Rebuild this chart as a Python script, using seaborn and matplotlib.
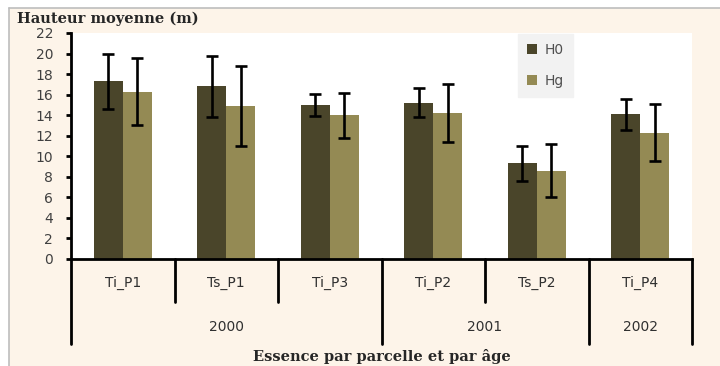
import matplotlib
matplotlib.use("Agg")
import matplotlib.pyplot as plt
from matplotlib.patches import Rectangle, Patch
from matplotlib.lines import Line2D
import matplotlib.transforms as mtransforms
import numpy as np
import pandas as pd
import seaborn as sns

# Mean heights per plot (m) and their standard deviations
parcelles = ["Ti_P1", "Ts_P1", "Ti_P3", "Ti_P2", "Ts_P2", "Ti_P4"]
annees = ["2000", "2000", "2000", "2001", "2001", "2002"]
series = ["H0", "Hg"]
h0 = [17.3, 16.8, 15.0, 15.2, 9.3, 14.1]
h0_sd = [2.7, 3.0, 1.1, 1.4, 1.7, 1.5]
hg = [16.3, 14.9, 14.0, 14.2, 8.6, 12.3]
hg_sd = [3.3, 3.9, 2.2, 2.8, 2.6, 2.8]
yticks = list(range(0, 23, 2))

colors = {"H0": "#4A452A", "Hg": "#948A54"}
bg = "#FDF4E9"

df = pd.DataFrame({
    "parcelle": parcelles * 2,
    "serie": ["H0"] * len(parcelles) + ["Hg"] * len(parcelles),
    "hauteur": h0 + hg,
    "sd": h0_sd + hg_sd,
})

sns.set_theme(style="white")
plt.rcParams["font.family"] = ["DejaVu Sans"]

W, H = 720, 366
fig = plt.figure(figsize=(W / 100, H / 100), dpi=100)
fig.patch.set_facecolor("white")

# chart frame: pale background with a thin grey border on left and top
fig.patches.append(Rectangle((9 / W, 0), 1 - 9 / W, 1 - 8 / H, transform=fig.transFigure,
                             facecolor=bg, edgecolor="none", zorder=-10))
fig.add_artist(Line2D([9 / W, 9 / W], [0, 1 - 8 / H], transform=fig.transFigure,
                      color="#BDBDBD", lw=1.2))
fig.add_artist(Line2D([9 / W, 1], [1 - 8 / H, 1 - 8 / H], transform=fig.transFigure,
                      color="#BDBDBD", lw=1.2))

x0, x1 = 71, 692
y_top, y_bot = 33, 259
ax = fig.add_axes([x0 / W, 1 - y_bot / H, (x1 - x0) / W, (y_bot - y_top) / H])
ax.set_facecolor("white")

sns.barplot(data=df, x="parcelle", y="hauteur", hue="serie", order=parcelles,
            hue_order=series, palette=colors, errorbar=None, width=0.56,
            saturation=1, linewidth=0, ax=ax, legend=False)

# error bars at the centre of each bar
for cont, serie in zip(ax.containers, series):
    sub = df[df["serie"] == serie].set_index("parcelle").loc[parcelles]
    xs = [p.get_x() + p.get_width() / 2 for p in cont.patches]
    ax.errorbar(xs, sub["hauteur"].values, yerr=sub["sd"].values, fmt="none",
                ecolor="black", elinewidth=1.9, capsize=4.2, capthick=1.9, zorder=5)

ax.set_ylim(0, 22)
ax.set_xlim(-0.5, len(parcelles) - 0.5)
ax.set_yticks(yticks)
ax.set_yticklabels([str(t) for t in yticks], color="#404040", fontsize=10)
ax.tick_params(axis="y", direction="out", length=3.8, width=2, color="black", pad=9, left=True)
ax.tick_params(axis="x", bottom=False, labelbottom=False)
ax.set_xlabel("")
ax.set_ylabel("")
for s in ["top", "right"]:
    ax.spines[s].set_visible(False)
for s in ["left", "bottom"]:
    ax.spines[s].set_color("black")
    ax.spines[s].set_linewidth(2)

# two-level category axis below the plot
tr = mtransforms.blended_transform_factory(ax.transData, ax.transAxes)
ph = y_bot - y_top
cat_depth = -(302 - y_bot) / ph
year_depth = -(344 - y_bot) / ph
for i, name in enumerate(parcelles):
    ax.text(i, -(283 - y_bot) / ph, name, transform=tr, ha="center", va="center",
            fontsize=10, color="#303030")
bounds = [-0.5] + [i + 0.5 for i in range(len(parcelles))]
for b in bounds:
    i = int(b + 0.5)
    is_year = i == 0 or i == len(parcelles) or annees[i] != annees[i - 1]
    depth = year_depth if is_year else cat_depth
    ax.add_line(Line2D([b, b], [0, depth], transform=tr, color="black", lw=2,
                       clip_on=False))
# year labels centred under their groups
start = 0
for i in range(1, len(parcelles) + 1):
    if i == len(parcelles) or annees[i] != annees[start]:
        ax.text((start + i - 1) / 2, -(327 - y_bot) / ph, annees[start], transform=tr,
                ha="center", va="center", fontsize=10, color="#303030")
        start = i

fig.text(17 / W, 1 - 19 / H, "Hauteur moyenne (m)", ha="left", va="center",
         fontsize=10.5, fontweight="bold", family=["DejaVu Serif"])
fig.text((x0 + x1) / 2 / W, 1 - 357 / H, "Essence par parcelle et par âge",
         ha="center", va="center", fontsize=10.5, fontweight="bold",
         family=["DejaVu Serif"])

handles = [Patch(facecolor=colors[s], edgecolor="none") for s in series]
leg = ax.legend(handles, series, loc="upper left",
                bbox_to_anchor=(518 / W, 1 - 34 / H), bbox_transform=fig.transFigure,
                borderaxespad=0, handlelength=0.75, handleheight=0.75,
                handletextpad=0.5, labelspacing=1.2, borderpad=0.65, fontsize=10,
                frameon=True, fancybox=False, facecolor="#F2F2F2", edgecolor="#F2F2F2",
                framealpha=1)
for t in leg.get_texts():
    t.set_color("#505050")

fig.savefig("out.png", dpi=100, facecolor=fig.get_facecolor())
